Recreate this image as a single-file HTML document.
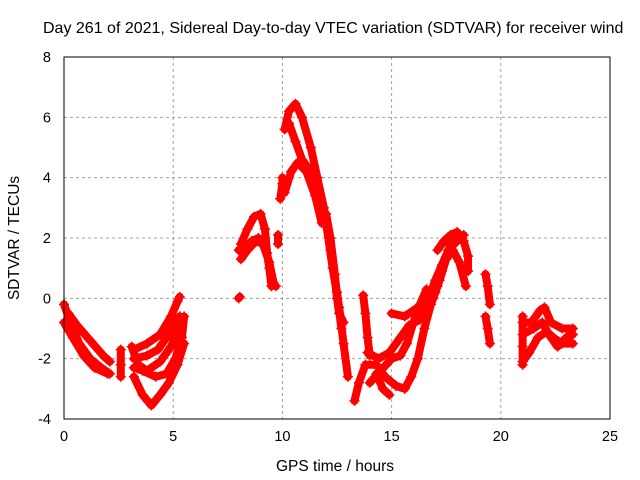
<!DOCTYPE html>
<html><head><meta charset="utf-8"><style>
body{margin:0;background:#fff}
svg{display:block;font-family:"Liberation Sans",sans-serif}
</style></head><body>
<svg id="chart" width="640" height="480" viewBox="0 0 640 480">
<text x="43" y="33" font-size="16" fill="#000">Day 261 of 2021, Sidereal Day-to-day VTEC variation (SDTVAR) for receiver wind</text>
<g id="grid"></g>
<g id="marks"></g>
<rect x="64" y="57" width="546" height="362" fill="none" stroke="#000" stroke-width="1"/>
<g id="ticks"></g>
<text x="335" y="471" font-size="15.5" text-anchor="middle">GPS time / hours</text>
<text transform="translate(19,238) rotate(-90)" font-size="15.5" text-anchor="middle">SDTVAR / TECUs</text>
</svg>
<script>
const xTicks=[0,5,10,15,20,25];
const yTicks=[-4,-2,0,2,4,6,8];
const A1=[[0,-0.2],[0.3,-0.8],[0.7,-1.5],[1.2,-2.0],[1.7,-2.3],[2.1,-2.5]];
const A2=[[0.2,-0.5],[0.6,-0.9],[1.2,-1.4],[1.8,-1.9],[2.1,-2.1]];
const A3=[[0,-0.8],[0.4,-1.3],[0.9,-1.9],[1.4,-2.3],[2.0,-2.5]];
const A4=[[2.6,-1.7],[2.6,-2.2],[2.6,-2.6]];
const B1=[[3.2,-1.7],[3.8,-1.5],[4.4,-1.2],[4.9,-0.6],[5.2,-0.1],[5.3,0.05]];
const B2=[[3.2,-2.0],[3.8,-1.9],[4.3,-1.7],[4.8,-1.2],[5.3,-0.6]];
const B3=[[3.2,-2.3],[3.6,-2.4],[4.2,-2.6],[4.7,-2.5],[5.1,-2.0],[5.4,-1.3],[5.5,-0.6]];
const B4=[[3.2,-2.6],[3.6,-3.2],[4.0,-3.55],[4.4,-3.2],[4.8,-2.8],[5.2,-2.2],[5.5,-1.5]];
const B5=[[3.1,-1.6],[3.4,-2.2],[3.8,-2.4],[4.4,-2.1],[4.9,-1.6],[5.3,-1.0]];
const C1=[[8.1,1.8],[8.4,2.3],[8.7,2.7],[9.0,2.8],[9.2,2.3],[9.3,1.5],[9.4,1.0],[9.5,0.4]];
const C2=[[8.1,1.3],[8.4,1.6],[8.8,1.9],[9.1,1.8],[9.4,1.2],[9.6,0.5],[9.7,0.4]];
const C3=[[8.0,1.6],[8.3,1.7],[8.6,1.9],[8.9,2.0]];
const C4=[[9.8,1.8],[9.8,2.1]];
const C5=[[9.9,3.3],[10.0,3.8],[10.0,4.0]];
const C6=[[8.0,0.0],[8.05,0.05]];
const D1=[[10.1,5.6],[10.3,6.2],[10.6,6.45],[10.9,6.0],[11.3,5.0],[11.6,4.0],[11.9,3.0],[12.2,1.6],[12.5,0.2],[12.7,-1.0]];
const D2=[[10.3,5.8],[10.6,5.2],[10.9,4.6],[11.3,4.2],[11.7,3.4],[12.0,2.5],[12.3,1.0],[12.6,-0.3],[12.8,-1.5],[13.0,-2.6]];
const D3=[[10.1,3.5],[10.4,4.2],[10.7,4.5],[11.1,4.2],[11.5,3.4],[11.8,2.5]];
const D4=[[12.0,2.8],[12.2,2.0],[12.4,0.8],[12.5,0.0],[12.6,-0.5],[12.8,-0.8]];
const E1=[[13.7,0.1],[13.8,-0.5],[13.9,-1.3],[14.0,-1.9]];
const E2=[[13.3,-3.4],[13.5,-2.8],[13.8,-2.2],[14.3,-2.2],[14.7,-2.6],[15.2,-2.9],[15.6,-3.0],[15.9,-2.6],[16.2,-2.0],[16.5,-1.0],[16.8,-0.2],[17.1,0.4]];
const E3=[[14.0,-2.8],[14.5,-2.4],[15.0,-2.0],[15.4,-1.9],[15.7,-1.5],[16.0,-0.8],[16.3,-0.2],[16.6,0.3]];
const E4=[[13.9,-1.8],[14.4,-2.0],[14.9,-1.8],[15.4,-1.3],[15.8,-0.9],[16.3,-0.7],[16.7,-0.3],[17.0,0.2],[17.3,0.9],[17.6,1.6],[18.0,1.9],[18.3,2.1]];
const E5=[[15.0,-0.5],[15.6,-0.6],[16.2,-0.3],[16.7,0.0],[17.0,0.6],[17.3,1.1],[17.6,1.6],[17.8,2.0]];
const E6=[[16.6,-0.4],[16.9,0.0],[17.2,0.6],[17.5,1.3],[17.8,1.6],[18.1,1.2],[18.4,0.4]];
const E7=[[17.1,1.6],[17.4,1.9],[17.7,2.1],[18.0,2.2],[18.3,1.9],[18.5,1.4],[18.5,0.9]];
const E8=[[14.3,-2.5],[14.6,-3.0],[14.9,-3.2]];
const F1=[[19.3,0.8],[19.4,0.4],[19.5,-0.2]];
const F2=[[19.3,-0.6],[19.4,-1.0],[19.5,-1.5]];
const G1=[[21.0,-0.8],[21.4,-0.8],[21.8,-0.4],[22.0,-0.3],[22.3,-0.8],[22.8,-1.0],[23.3,-1.0]];
const G2=[[21.0,-1.2],[21.5,-1.0],[21.9,-0.8],[22.2,-1.2],[22.6,-1.6],[23.0,-1.3],[23.3,-1.2]];
const G3=[[21.0,-2.1],[21.3,-1.8],[21.7,-1.3],[22.1,-1.1],[22.4,-1.3],[22.8,-1.5],[23.3,-1.5]];
const G4=[[21.0,-0.6],[21.0,-1.6],[21.0,-2.2]];
const tracks=[A1,A2,A3,A4,B1,B2,B3,B4,B5,C1,C2,C3,C4,C5,C6,D1,D2,D3,D4,E1,E2,E3,E4,E5,E6,E7,E8,F1,F2,G1,G2,G3,G4];

const NS="http://www.w3.org/2000/svg";
const X0=64,X1=610,Y0=419,Y1=57;
function sx(t){return X0+(t-0)/25*(X1-X0);}
function sy(v){return Y0-(v+4)/12*(Y0-Y1);}
function mk(tag,attrs,parent){const e=document.createElementNS(NS,tag);for(const k in attrs)e.setAttribute(k,attrs[k]);parent.appendChild(e);return e;}
const grid=document.getElementById('grid'),ticks=document.getElementById('ticks'),marks=document.getElementById('marks');
xTicks.forEach(t=>{
  const x=sx(t);
  if(t>0&&t<25){const g=mk('line',{x1:x,x2:x,y1:Y1,y2:Y0,stroke:'#a0a0a0','stroke-dasharray':'3,3'},grid);
  
  }
  const l=mk('text',{x:x,y:441,'font-size':'14.5','text-anchor':'middle'},ticks);
  
  
  l.textContent=t;
});
yTicks.forEach(v=>{
  const y=sy(v);
  if(v>-4&&v<8){const g=mk('line',{x1:X0,x2:X1,y1:y,y2:y,stroke:'#a0a0a0','stroke-dasharray':'3,3'},grid);
  
  }
  const l=mk('text',{x:51,y:y+5,'font-size':'14.5','text-anchor':'end'},ticks);
  
  
  l.textContent=v;
});
tracks.forEach(tr=>{
  const pts=tr.map(p=>sx(p[0])+','+sy(p[1])).join(' ');
  const pl=mk('polyline',{points:pts,fill:'none',stroke:'#ff0000','stroke-width':'8','stroke-linejoin':'round','stroke-linecap':'round'},marks);
  
  
  tr.forEach(p=>{
    const x=sx(p[0]),y=sy(p[1]);
    const m=mk('path',{d:`M${x-5},${y}H${x+5}M${x},${y-5}V${y+5}`,stroke:'#ff0000','stroke-width':'1.5',fill:'none'},marks);
    
    
  });
});
</script>
</body></html>
